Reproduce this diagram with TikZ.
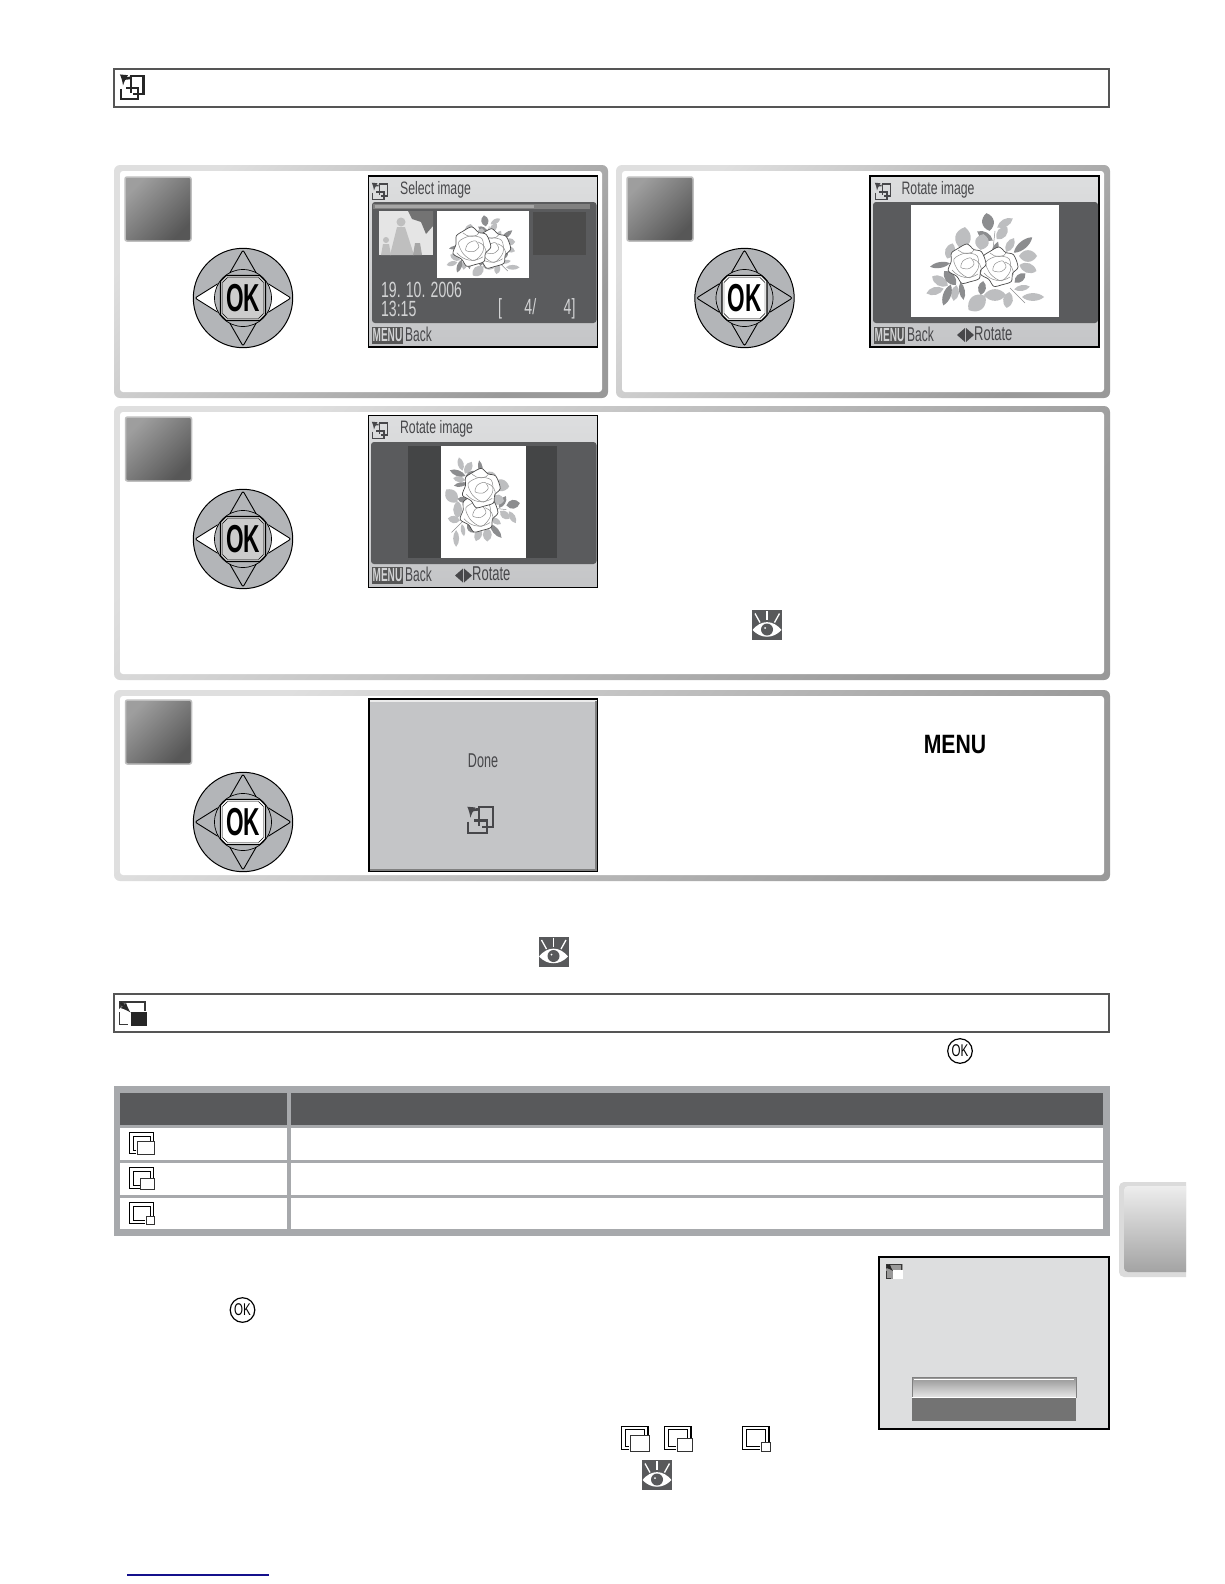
\documentclass[tikz,border=0pt]{standalone}
\usepackage{fontspec}
\setmainfont{Liberation Sans}
\usepackage{tikz}
\usetikzlibrary{arrows,calc}
\definecolor{hdrline}{HTML}{555555}
\definecolor{btngray}{HTML}{B3B5B8}
\definecolor{lcdtop}{HTML}{DDDEDF}
\definecolor{lcdbot}{HTML}{C4C5C7}
\definecolor{lcddark}{HTML}{5A5B5D}
\definecolor{lcdblack}{HTML}{444546}
\definecolor{lcdtext}{HTML}{47474A}
\definecolor{lcdlight}{HTML}{D2D3D4}
\definecolor{leafdark}{HTML}{8C8D8F}
\definecolor{leaflight}{HTML}{BDBEC0}
\definecolor{tblgray}{HTML}{A7A9AC}
\definecolor{tblhead}{HTML}{58595B}
\definecolor{linkblue}{HTML}{14108C}
\tikzset{
  hdrbox/.style={draw=hdrline,line width=2pt,fill=white},
  panelout/.style={top color=gray!25,bottom color=gray!80,shading angle=45,rounded corners=6pt},
  stepbox/.style={draw=black!25,line width=1.5pt,top color=black!38,bottom color=black!66,shading angle=45,
    rounded corners=2pt,minimum width=66pt,minimum height=64pt,inner sep=0pt},
  lcdbox/.style={draw=black,line width=1.1pt,top color=lcdtop,bottom color=lcdbot},
  lcdtitle/.style={font=\fontsize{18}{18}\selectfont,text=lcdtext,inner sep=0pt,anchor=west,xscale=.68,transform shape},
  lcdfoot/.style={font=\fontsize{20}{20}\selectfont,text=lcdtext,inner sep=0pt,anchor=west,xscale=#1,transform shape},
  lcdinfo/.style={font=\fontsize{22}{22}\selectfont,text=lcdlight,inner sep=0pt,anchor=west,xscale=.64,transform shape},
  lcdmenu/.style={font=\bfseries\fontsize{19}{19}\selectfont,text=lcdlight,fill=hdrline,inner sep=1pt,
    minimum height=16.5pt,anchor=west,xscale=.53,transform shape},
  oktxt/.style={font=\bfseries\fontsize{39}{39}\selectfont,text=black,inner sep=0pt,xscale=.58,transform shape},
  smalloktxt/.style={font=\fontsize{17}{17}\selectfont,text=black,inner sep=0pt,xscale=.68,transform shape},
  pics/okbutton/.style 2 args={code={
    \draw[fill=btngray,line width=1pt] (0,0) circle (49.7);
    \draw[fill=btngray,line width=.9pt,rounded corners=2pt] (0,-48) -- (15,-22) -- (-15,-22) -- cycle;
    \draw[fill=btngray,line width=.9pt,rounded corners=2pt] (0,48) -- (15,22) -- (-15,22) -- cycle;
    \draw[fill=#1,line width=.9pt,rounded corners=2pt] (-48,0) -- (-24,-15) -- (-24,15) -- cycle;
    \draw[fill=#1,line width=.9pt,rounded corners=2pt] (48,0) -- (24,-15) -- (24,15) -- cycle;
    \draw[fill=btngray,line width=.7pt] (0,0) circle (28.5);
    \draw[fill=#2,line width=1.2pt] (-17,-22.5) -- (17,-22.5) -- (22.5,-17) -- (22.5,17) -- (17,22.5) -- (-17,22.5) -- (-22.5,17) -- (-22.5,-17) -- cycle;
    \draw[line width=.4pt] (-15.5,-20.5) -- (15.5,-20.5) -- (20.5,-15.5) -- (20.5,15.5) -- (15.5,20.5) -- (-15.5,20.5) -- (-20.5,15.5) -- (-20.5,-15.5) -- cycle;
    \node[oktxt] (-ok) at (0,0) {OK};
  }},
  pics/smallok/.style={code={
    \draw[fill=white,line width=1.2pt] (0,0) circle (12.3);
    \node[smalloktxt] (-ok) at (0,0) {OK};
  }},
  pics/rotateicon/.style={code={
    \draw[line width=#1] (11,5) -- (11,.8) -- (23.5,.8) -- (23.5,19) -- (13,19);
    \draw[line width=#1] (.8,14) -- (.8,24.2) -- (18.2,24.2) -- (18.2,13) -- (6,13);
    \draw[line width=#1] (11,5) -- (11,18);
    \draw[line width=#1*1.2,-latex] (10,3) .. controls (6,3) and (3.5,5) .. (3,10.5);
  }},
  pics/sizeicon/.style 2 args={code={
    \draw[line width=1.2pt] (27-#1,24.3) -- (.6,24.3) -- (.6,.6) -- (27,.6) -- (27,25-#2);
    \draw[line width=.7pt] (27-#1,20.6) -- (4.3,20.6) -- (4.3,4.3) -- (23.2,4.3) -- (23.2,25-#2);
    \draw[line width=.8pt,draw=black!80,fill=white] (28-#1,25-#2) rectangle (28,25.4);
  }},
  pics/resizeicon/.style 2 args={code={
    \draw[black!78,line width=#2] (.6,11) -- (.6,23.4) -- (9,23.4);
    \draw[black!78,line width=#2] (0,.8) -- (26,.8) -- (26,10);
    \fill[black!78] (0,0) -- (8,0) -- (0,8) -- cycle;
    \draw[black!85,line width=#2*1.4,-latex] (1.5,1.5) -- (11.5,11.5);
    \fill[#1] (12,10.6) rectangle (28,25);
  }},
  pics/eyeicon/.style={code={
    \fill[tblhead] (-15,-15) rectangle (15,15);
    \fill[white] (-14.5,5) .. controls (-6,-5.5) and (6,-5.5) .. (14.5,5) .. controls (6,14) and (-6,14) .. cycle;
    \fill[tblhead] (0,4.5) circle (6);
    \fill[white] (-2,3) circle (1);
    \draw[white,line width=1.3pt] (-12,-11.5) -- (-7,-2.5);
    \draw[white,line width=1.3pt] (0,-14) -- (0,-5);
    \draw[white,line width=1.3pt] (12.5,-11.5) -- (7.5,-2.5);
  }},
  pics/rosehead/.style={code={
    \draw[fill=white,draw=black!70,line width=.7pt] plot[smooth cycle] coordinates {(0:19) (25:15) (50:19) (80:18) (105:20) (130:16) (160:20) (190:16) (215:19) (240:18) (270:20) (295:16) (320:19)};
    \draw[draw=black!45,line width=.5pt] plot[smooth cycle] coordinates {(20:12) (80:14) (140:11) (200:14) (260:11) (320:13)};
    \draw[draw=black!45,line width=.5pt] plot[smooth cycle] coordinates {(0:7) (70:5) (150:7) (220:5) (300:7)};
    \draw[draw=black!45,line width=.5pt] (-15,6) .. controls (-8,14) and (2,16) .. (11,10);
    \draw[draw=black!45,line width=.5pt] (-9,-14) .. controls (-4,-9) and (5,-9) .. (8,-15);
    \draw[draw=black!45,line width=.5pt] (6,-5) .. controls (12,-3) and (15,2) .. (14,8);
  }},
  pics/flower/.style={code={
    \foreach \lx/\ly/\la/\lr/\lw/\lc in {
      3/-39/-80/9/6/leafdark,20/-38/30/9/4/leaflight,17/-28/50/8/5/leaflight,0/-25/-30/9/4/leafdark,
      -22/-23/80/11/8/leaflight,-3/-19/80/8/7/leaflight,10/-11/70/9/3/leafdark,25/-16/60/8/4/leaflight,
      38/-16/40/12/4/leafdark,43/-5/0/9/6/leaflight,43/7/-20/9/5/leaflight,-35/-10/70/8/5/leaflight,
      -45/4/10/10/3/leafdark,-45/20/-30/9/5/leaflight,-35/17/-50/9/5/leafdark,-50/30/15/9/4/leaflight,
      -30/32/80/8/4/leaflight,-38/34/70/11/4/leafdark,-23/30/100/9/3/leafdark,-8/42/40/11/8/leaflight,
      10/34/0/11/6/leaflight,23/39/80/8/5/leaflight,48/36/0/11/4/leaflight,37/27/10/8/3/leaflight,
      35/17/40/7/4/leafdark,-3/27/80/7/4/leafdark} {
      \fill[\lc,shift={(\lx,\ly)},rotate=\la] (-\lr,0) .. controls (-\lr/2,-1.3*\lw) and (\lr/2,-1.3*\lw) .. (\lr,0) .. controls (\lr/2,1.3*\lw) and (-\lr/2,1.3*\lw) .. cycle;
    }
    \draw[leafdark,line width=.5pt] (25,27) -- (40,42);
    \draw[leafdark,line width=.5pt] (10,-30) -- (8,-12);
    \pic at (14,6) {rosehead};
    \pic at (-18,3) {rosehead};
  }},
  pics/lrarrows/.style={code={
    \fill[lcdtext] (0,0) -- (8,-7) -- (8,7) -- cycle;
    \fill[lcdtext] (17,0) -- (9,-7) -- (9,7) -- cycle;
  }}
}
\begin{document}
\begin{tikzpicture}[x=1pt,y=-1pt]
\useasboundingbox (0,0) rectangle (1224,1584);
\fill[white] (0,0) rectangle (1224,1584);
\draw[hdrbox] (114,69) rectangle (1109,107);
\pic[black!85] at (120,75) {rotateicon=2.2pt};
\path[panelout] (114,165) rectangle (608,398);
\fill[white,rounded corners=3pt] (120,171) rectangle (602,392);
\path[panelout] (616,165) rectangle (1110,398);
\fill[white,rounded corners=3pt] (622,171) rectangle (1104,392);
\path[panelout] (114,406) rectangle (1110,680);
\fill[white,rounded corners=3pt] (120,412) rectangle (1104,674);
\path[panelout] (114,690) rectangle (1110,881);
\fill[white,rounded corners=3pt] (120,696) rectangle (1104,875);
\node[stepbox] (S1) at (158,209) {};
\node[stepbox] (S2) at (660,209) {};
\node[stepbox] (S3) at (158.5,449) {};
\node[stepbox] (S4) at (158.5,732) {};
\pic (B1) at (243,298) {okbutton={white}{black!20}};
\pic (B2) at (744.5,298) {okbutton={btngray}{white}};
\pic (B3) at (243,539) {okbutton={white}{black!20}};
\pic (B4) at (243,822) {okbutton={btngray}{white}};
\path[lcdbox] (368.5,176) rectangle (597.5,347);
\pic[scale=.66,lcdtext] at (372,183.5) {rotateicon=1.3pt};
\node[lcdtitle] (T1) at (400,190) {Select image};
\fill[lcddark,rounded corners=3pt] (372,202) rectangle (596.5,323);
\fill[black!50] (373,204) rectangle (590,209);
\fill[black!35] (375,205) rectangle (534,208);
\fill[black!10] (379,211) rectangle (433,255);
\fill[black!55] (408,211) -- (433,211) -- (433,226) -- (426,234) -- (421,222) -- (412,219) -- cycle;
\fill[black!25] (401,222) circle (4.5);
\fill[black!25] (397,227) -- (405,227) -- (414,255) -- (390,255) -- cycle;
\fill[black!25] (386,240) circle (3);
\fill[black!25] (383,244) -- (389,244) -- (391,255) -- (381,255) -- cycle;
\fill[black!35] (415,243) -- (420,243) -- (422,255) -- (413,255) -- cycle;
\fill[white] (437,211) rectangle (529,278);
\pic[scale=.62] at (483,245) {flower};
\fill[black!70] (533,212) rectangle (586,255);
\node[lcdinfo] (D1) at (381,290) {19. 10. 2006};
\node[lcdinfo] (D2) at (381,309) {13:15};
\node[lcdinfo] (D3) at (498,309) {[\hspace{35pt}4/\hspace{43pt}4]};
\node[lcdmenu] (M1) at (372,335.5) {MENU};
\node[lcdfoot=.6] (K1) at (405,334) {Back};
\path[lcdbox] (870,176) rectangle (1099,347);
\pic[scale=.66,lcdtext] at (875,183.5) {rotateicon=1.3pt};
\node[lcdtitle] (T2) at (901.5,190) {Rotate image};
\fill[lcddark,rounded corners=3pt] (873,202) rectangle (1098,323);
\fill[white] (911,205) rectangle (1059,317);
\pic at (985,261) {flower};
\node[lcdmenu] (M2) at (874,335.5) {MENU};
\node[lcdfoot=.6] (K2) at (907,334) {Back};
\pic at (957,335) {lrarrows};
\node[lcdfoot=.65] (R2) at (974,334) {Rotate};
\path[lcdbox] (368.5,415.5) rectangle (597.5,587.5);
\pic[scale=.66,lcdtext] at (372,422.5) {rotateicon=1.3pt};
\node[lcdtitle] (T3) at (400,429) {Rotate image};
\fill[lcddark,rounded corners=3pt] (371,442) rectangle (596.5,564);
\fill[lcdblack] (408,446) rectangle (557,558);
\fill[white] (441,446) rectangle (526,558);
\pic[scale=.76,rotate=-90] at (483.5,502) {flower};
\node[lcdmenu] (M3) at (372,575.5) {MENU};
\node[lcdfoot=.6] (K3) at (405,574) {Back};
\pic at (455,575.5) {lrarrows};
\node[lcdfoot=.65] (R3) at (472,574) {Rotate};
\pic at (767,625) {eyeicon};
\draw[line width=1.3pt,draw=black,fill=lcdbot] (369,699) rectangle (597.5,871.5);
\draw[black!8,line width=1.5pt] (370,701) -- (596.5,701);
\draw[black!50,line width=1.5pt] (370,870) -- (596,870) -- (596,701);
\node[lcdfoot=.63,anchor=center] (D4) at (483,761) {Done};
\pic[scale=1.12,lcdtext] at (467,806) {rotateicon=2.2pt};
\node[font=\bfseries\fontsize{26.5}{26.5}\selectfont,inner sep=0pt,xscale=.8,transform shape] (M4) at (955,744.5) {MENU};
\pic at (553.5,951.5) {eyeicon};
\draw[hdrbox] (114,994) rectangle (1109,1032);
\pic at (119,1001) {resizeicon={black!85}{1.7pt}};
\pic (O1) at (960,1051) {smallok};
\fill[tblgray] (114,1086) rectangle (1110,1236);
\fill[tblhead] (120,1093) rectangle (287,1125);
\fill[tblhead] (291,1093) rectangle (1103,1125);
\fill[white] (120,1128) rectangle (287,1160);
\fill[white] (291,1128) rectangle (1103,1160);
\fill[white] (120,1163) rectangle (287,1195);
\fill[white] (291,1163) rectangle (1103,1195);
\fill[white] (120,1198) rectangle (287,1229);
\fill[white] (291,1198) rectangle (1103,1229);
\pic[scale=.9] at (129,1132) {sizeicon={19}{15}};
\pic[scale=.9] at (129,1167) {sizeicon={15}{12.5}};
\pic[scale=.9] at (129,1202) {sizeicon={9}{8.5}};
\fill[black!14] (1186,1182) [rounded corners=5pt] -- (1119,1182) -- (1119,1277) [sharp corners] -- (1186,1277) -- cycle;
\path[top color=black!7,bottom color=black!36] (1186,1186) [rounded corners=4pt] -- (1124,1186) -- (1124,1272) [sharp corners] -- (1186,1272) -- cycle;
\draw[line width=1.5pt,draw=black,fill=lcdtop] (879,1257) rectangle (1109,1429);
\fill[black!40] (886,1264) rectangle (903,1279);
\pic[scale=.6] at (886,1264) {resizeicon={white}{1pt}};
\path[top color=black!42,bottom color=black!10,draw=black!50,line width=.6pt] (912,1377) rectangle (1076,1397);
\draw[white,line width=1pt] (914,1379) -- (1074,1379);
\draw[white,line width=1pt] (912,1397) -- (1076,1397);
\fill[black!55] (912,1397.5) rectangle (1076,1421);
\pic (O2) at (242.5,1310) {smallok};
\pic at (621,1425.5) {sizeicon={19}{15}};
\pic at (664,1425.5) {sizeicon={15}{12.5}};
\pic at (742,1425.5) {sizeicon={9}{8.5}};
\pic at (657,1475) {eyeicon};
\draw[linkblue,line width=1.2pt] (127,1575) -- (269,1575);
\end{tikzpicture}
\end{document}
